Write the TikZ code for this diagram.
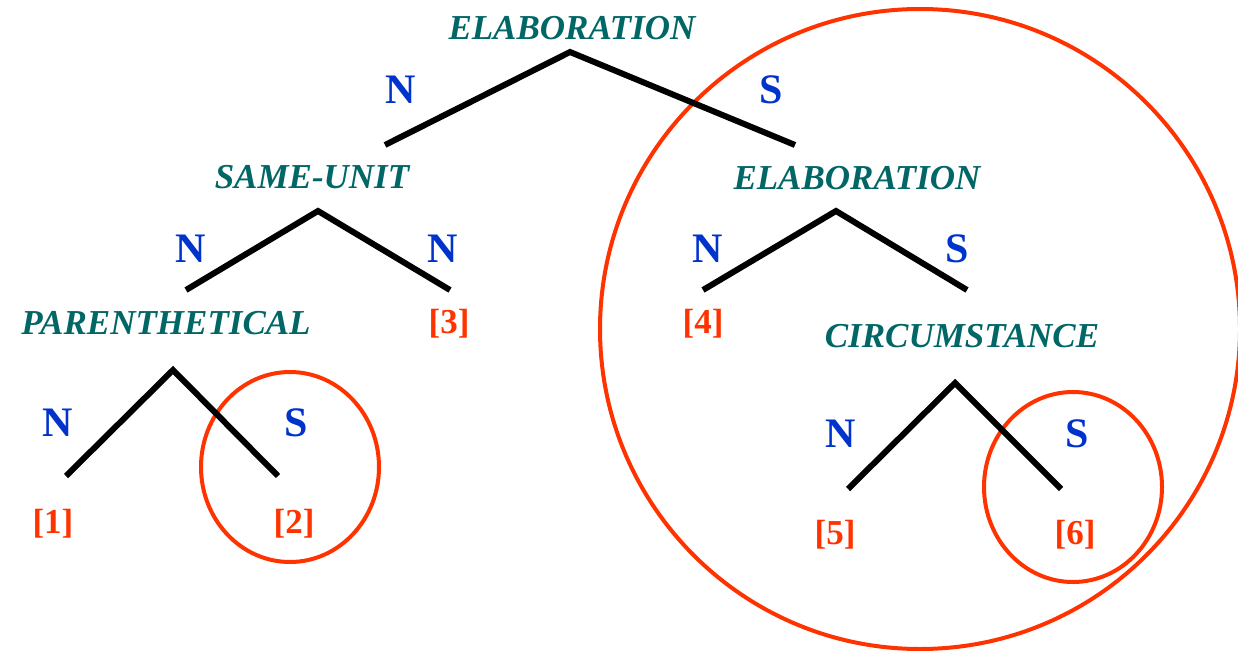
\documentclass[tikz,border=0pt]{standalone}
\usepackage{fontspec}
\setmainfont{Liberation Serif}
\usetikzlibrary{shapes.geometric}
\definecolor{relteal}{RGB}{0,102,102}
\definecolor{nucblue}{RGB}{0,51,204}
\definecolor{segred}{RGB}{255,51,0}
\tikzset{
  rel/.style={text=relteal,font=\fontsize{35}{40}\selectfont\bfseries\itshape,inner sep=0pt,anchor=base},
  nuc/.style={text=nucblue,font=\fontsize{42}{46}\selectfont\bfseries,inner sep=0pt,anchor=base},
  seg/.style={text=segred,font=\fontsize{35}{40}\selectfont\bfseries,inner sep=0pt,anchor=center},
  branch/.style={draw=black,line width=6pt},
  ring/.style={draw=segred,line width=4pt,ellipse,inner sep=0pt,fill=none},
}
\begin{document}
\begin{tikzpicture}[x=1pt,y=-1pt]
\useasboundingbox (0,0) rectangle (1238,650);
% circles
\node[ring,minimum width=640pt,minimum height=640pt] (bigring) at (920,329) {};
\node[ring,minimum width=178pt,minimum height=190pt] (ring2) at (290,467) {};
\node[ring,minimum width=178pt,minimum height=190pt] (ring6) at (1073,487) {};
% relation labels
\node[rel] (elab1) at (572,40) {ELABORATION};
\node[rel] (same) at (312,188) {SAME-UNIT};
\node[rel] (paren) at (166,334) {PARENTHETICAL};
\node[rel] (elab2) at (857,189) {ELABORATION};
\node[rel] (circ) at (962,347) {CIRCUMSTANCE};
% tree coordinates
\coordinate (a1) at (570,52);  \coordinate (a1l) at (385,145); \coordinate (a1r) at (795,145);
\coordinate (a2) at (318,211); \coordinate (a2l) at (186,290); \coordinate (a2r) at (450,290);
\coordinate (a3) at (173,370); \coordinate (a3l) at (66,476);  \coordinate (a3r) at (278,476);
\coordinate (a4) at (836,211); \coordinate (a4l) at (703,290); \coordinate (a4r) at (967,290);
\coordinate (a5) at (955,383); \coordinate (a5l) at (848,489); \coordinate (a5r) at (1061,489);
\draw[branch] (a1l) -- (a1) -- (a1r);
\draw[branch] (a2l) -- (a2) -- (a2r);
\draw[branch] (a3l) -- (a3) -- (a3r);
\draw[branch] (a4l) -- (a4) -- (a4r);
\draw[branch] (a5l) -- (a5) -- (a5r);
% N / S labels
\node[nuc] (n1) at (401,104) {N};
\node[nuc] (s1) at (771,104) {S};
\node[nuc] (n2) at (191,262) {N};
\node[nuc] (n3) at (443,262) {N};
\node[nuc] (n4) at (708,262) {N};
\node[nuc] (s4) at (957,262) {S};
\node[nuc] (n5) at (58,436) {N};
\node[nuc] (s5) at (296,436) {S};
\node[nuc] (n6) at (841,447) {N};
\node[nuc] (s6) at (1077,447) {S};
% segments
\node[seg] (e1) at (53,524) {[1]};
\node[seg] (e2) at (294,524) {[2]};
\node[seg] (e3) at (449,324) {[3]};
\node[seg] (e4) at (703,324) {[4]};
\node[seg] (e5) at (835,535) {[5]};
\node[seg] (e6) at (1075,535) {[6]};
\end{tikzpicture}
\end{document}
